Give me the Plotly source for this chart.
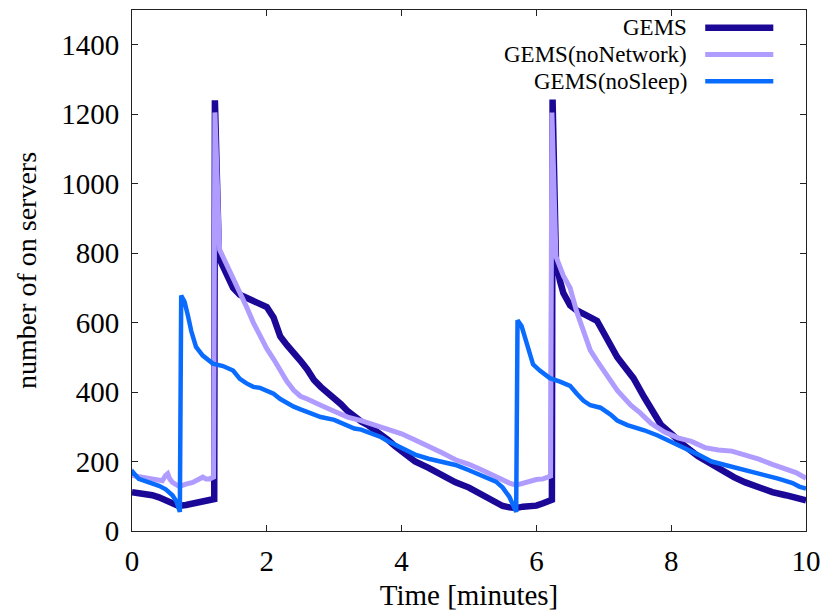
import plotly.graph_objects as go

# ---- data ----
gems_x = [0.0, 0.1, 0.2, 0.3, 0.4, 0.5, 0.6, 0.69, 0.8, 0.9, 1.0, 1.1, 1.2, 1.22, 1.23, 1.29, 1.33, 1.38, 1.45,
          1.5, 1.6, 1.75, 1.9, 2.0, 2.1, 2.2, 2.3, 2.4, 2.5, 2.6, 2.7, 2.8, 2.9, 3.0, 3.1, 3.2, 3.3, 3.4, 3.5,
          3.6, 3.7, 3.8, 3.9, 4.0, 4.2, 4.4, 4.6, 4.8, 5.0, 5.2, 5.4, 5.5, 5.6, 5.7, 5.8, 5.9, 6.0, 6.1, 6.2,
          6.23, 6.24, 6.29, 6.35, 6.4, 6.5, 6.6, 6.75, 6.9, 7.0, 7.1, 7.2, 7.3, 7.44, 7.6, 7.74, 7.85, 8.0,
          8.1, 8.2, 8.4, 8.6, 8.8, 8.93, 9.1, 9.3, 9.5, 9.7, 9.85, 10.0]
gems_y = [112, 110, 108, 103, 97, 90, 80, 72, 75, 78, 82, 87, 90, 92, 1240, 790, 770, 750, 715,
          700, 680, 668, 655, 645, 615, 560, 535, 515, 490, 465, 435, 415, 400, 385, 365, 345, 328, 315, 305,
          292, 278, 262, 245, 230, 200, 182, 160, 140, 125, 105, 85, 72, 68, 66, 70, 70, 73, 80, 87,
          90, 1242, 780, 720, 685, 650, 635, 620, 605, 570, 530, 500, 475, 440, 385, 340, 305, 280,
          262, 245, 215, 192, 170, 155, 140, 125, 112, 103, 95, 88]

nonet_x = [0.0, 0.1, 0.2, 0.3, 0.4, 0.45, 0.5, 0.53, 0.56, 0.6, 0.7, 0.75, 0.8, 0.9, 1.0, 1.05, 1.1, 1.15, 1.21,
           1.23, 1.3, 1.4, 1.5, 1.6, 1.7, 1.8, 1.9, 2.0, 2.1, 2.2, 2.3, 2.4, 2.5, 2.6, 2.7, 2.8, 3.0, 3.2,
           3.4, 3.6, 3.8, 4.0, 4.2, 4.4, 4.6, 4.8, 5.0, 5.2, 5.4, 5.5, 5.6, 5.7, 5.8, 5.9, 6.0, 6.1, 6.21,
           6.23, 6.29, 6.4, 6.5, 6.6, 6.7, 6.8, 6.9, 7.0, 7.2, 7.4, 7.54, 7.7, 7.9, 8.1, 8.3, 8.5, 8.7,
           8.9, 9.1, 9.3, 9.5, 9.7, 9.85, 10.0]
nonet_y = [160, 157, 153, 150, 148, 145, 160, 165, 150, 140, 128, 130, 135, 140, 148, 155, 150, 150, 155,
           1205, 810, 770, 730, 690, 645, 600, 560, 525, 495, 460, 430, 405, 388, 380, 370, 362, 345, 328,
           318, 305, 292, 280, 262, 245, 225, 205, 192, 175, 155, 145, 138, 132, 138, 145, 148, 150, 158,
           1205, 790, 735, 700, 630, 570, 520, 490, 460, 405, 362, 340, 310, 285, 268, 258, 240, 233,
           230, 220, 207, 192, 178, 168, 152]

nosleep_x = [0.0, 0.02, 0.1, 0.2, 0.3, 0.4, 0.5, 0.6, 0.66, 0.71, 0.73, 0.78, 0.83, 0.88, 0.95, 1.05, 1.2, 1.35,
             1.5, 1.6, 1.7, 1.8, 1.9, 2.0, 2.1, 2.2, 2.3, 2.4, 2.5, 2.6, 2.7, 2.8, 3.0, 3.2, 3.3, 3.4, 3.5,
             3.6, 3.7, 3.8, 3.9, 4.0, 4.2, 4.4, 4.6, 4.7, 4.8, 5.0, 5.2, 5.3, 5.4, 5.5, 5.6, 5.7, 5.72, 5.78,
             5.83, 5.88, 5.95, 6.05, 6.2, 6.35, 6.5, 6.6, 6.7, 6.8, 6.95, 7.1, 7.2, 7.35, 7.5, 7.6, 7.8, 8.0,
             8.2, 8.4, 8.6, 8.8, 9.0, 9.2, 9.4, 9.6, 9.8, 9.9, 10.0]
nosleep_y = [160, 168, 150, 143, 138, 130, 120, 103, 85, 55, 678, 660, 620, 575, 530, 505, 482, 475,
             462, 438, 425, 415, 412, 405, 395, 380, 368, 358, 350, 342, 333, 328, 320, 302, 295, 292, 285,
             278, 270, 258, 248, 237, 220, 208, 198, 195, 190, 175, 160, 150, 142, 125, 98, 55, 607, 590,
             555, 520, 480, 462, 440, 430, 418, 395, 375, 362, 355, 335, 318, 305, 297, 290, 275, 258,
             238, 220, 200, 190, 180, 172, 163, 150, 138, 128, 122]

series_names = ["GEMS", "GEMS(noNetwork)", "GEMS(noSleep)"]
series_colors = ["#1c0896", "#b09cff", "#0a6cff"]
series_widths = [6.5, 5, 4.5]

x_ticks = [0, 2, 4, 6, 8, 10]
y_ticks = [0, 200, 400, 600, 800, 1000, 1200, 1400]

FONT = "Liberation Serif, Times New Roman, Tinos, Times, DejaVu Serif, serif"

fig = go.Figure()
for xs, ys, name, col, w in zip([gems_x, nonet_x, nosleep_x], [gems_y, nonet_y, nosleep_y],
                                series_names, series_colors, series_widths):
    fig.add_trace(go.Scatter(x=xs, y=ys, mode="lines", name=name,
                             line=dict(color=col, width=w, shape="linear"), showlegend=False))

# custom legend: right-aligned text with line sample to its right (gnuplot style)
leg_rows = [0.966, 0.9146, 0.8634]
for name, col, w, yy in zip(series_names, series_colors, series_widths, leg_rows):
    fig.add_annotation(x=0.826, y=yy, xref="paper", yref="paper", text=name, showarrow=False,
                       xanchor="right", yanchor="middle", font=dict(family=FONT, size=23, color="black"))
    fig.add_shape(type="line", xref="paper", yref="paper", x0=0.8505, x1=0.9515, y0=yy, y1=yy,
                  line=dict(color=col, width=w))

axis_common = dict(showgrid=False, zeroline=False, showline=True, linecolor="#222222", linewidth=1,
                   mirror="allticks", ticks="inside", ticklen=6, tickwidth=1, tickcolor="#222222",
                   automargin=False,
                   tickfont=dict(family=FONT, size=29, color="black"))

fig.update_xaxes(range=[0, 10], tickvals=x_ticks, ticklabelstandoff=4,
                 title=dict(text="Time [minutes]", font=dict(family=FONT, size=29, color="black"), standoff=8),
                 **axis_common)
fig.update_yaxes(range=[0, 1500], tickvals=y_ticks, ticklabelstandoff=6,
                 title=dict(text="number of on servers", font=dict(family=FONT, size=28, color="black"), standoff=16),
                 **axis_common)

fig.update_layout(width=822, height=615, margin=dict(l=132, r=16, t=10, b=84, autoexpand=False),
                  plot_bgcolor="white", paper_bgcolor="white", font=dict(family=FONT))

post = """
document.body.style.margin='0px';
var gd = document.getElementById('{plot_id}');
if (document.fonts && document.fonts.load) {
  Promise.all([
    document.fonts.load('29px "Liberation Serif"'),
    document.fonts.load('29px "Times New Roman"')
  ]).then(function(){ return document.fonts.ready; })
    .then(function(){ Plotly.relayout(gd, {}); });
}
"""

fig.write_html("out.html", config={"displayModeBar": False}, post_script=post)
